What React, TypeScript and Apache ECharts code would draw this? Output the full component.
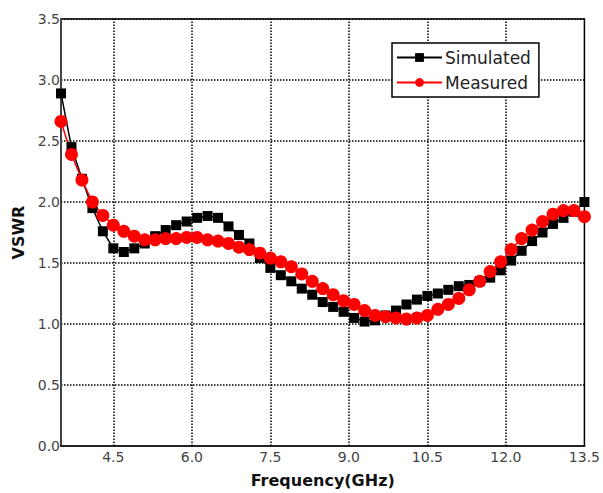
import React, { useEffect, useRef } from "react";
import * as echarts from "echarts";

const freqs = [3.5, 3.7, 3.9, 4.1, 4.3, 4.5, 4.7, 4.9, 5.1, 5.3, 5.5, 5.7, 5.9, 6.1, 6.3, 6.5, 6.7, 6.9, 7.1, 7.3, 7.5, 7.7, 7.9, 8.1, 8.3, 8.5, 8.7, 8.9, 9.1, 9.3, 9.5, 9.7, 9.9, 10.1, 10.3, 10.5, 10.7, 10.9, 11.1, 11.3, 11.5, 11.7, 11.9, 12.1, 12.3, 12.5, 12.7, 12.9, 13.1, 13.3, 13.5];

const simulated = [2.89, 2.45, 2.19, 1.95, 1.76, 1.62, 1.59, 1.62, 1.66, 1.72, 1.77, 1.81, 1.84, 1.87, 1.885, 1.87, 1.8, 1.73, 1.66, 1.54, 1.46, 1.4, 1.35, 1.29, 1.24, 1.18, 1.14, 1.1, 1.05, 1.02, 1.03, 1.07, 1.11, 1.16, 1.2, 1.23, 1.25, 1.28, 1.31, 1.32, 1.35, 1.38, 1.44, 1.52, 1.6, 1.68, 1.75, 1.82, 1.87, 1.92, 2.0];

const measured = [2.66, 2.39, 2.18, 2.0, 1.89, 1.81, 1.76, 1.72, 1.69, 1.69, 1.7, 1.7, 1.71, 1.71, 1.69, 1.68, 1.66, 1.63, 1.61, 1.58, 1.54, 1.51, 1.47, 1.41, 1.35, 1.29, 1.24, 1.19, 1.16, 1.11, 1.07, 1.06, 1.05, 1.04, 1.05, 1.07, 1.12, 1.16, 1.21, 1.28, 1.35, 1.43, 1.51, 1.61, 1.7, 1.77, 1.84, 1.9, 1.93, 1.93, 1.88];

const xTickLabels = [4.5, 6.0, 7.5, 9.0, 10.5, 12.0, 13.5];
const seriesNames = ["Simulated", "Measured"];

export default function App() {
  const ref = useRef<HTMLDivElement>(null);
  useEffect(() => {
    if (!ref.current) return;
    const chart = echarts.init(ref.current, null, { renderer: "svg" });
    const isTick = (v: number) => xTickLabels.some((t) => Math.abs(t - v) < 1e-6);
    chart.setOption({
      animation: false,
      backgroundColor: "#fff",
      grid: {
        left: 61,
        right: 18,
        top: 19,
        bottom: 47,
        show: true,
        borderColor: "#000",
        borderWidth: 1.5,
        backgroundColor: "transparent",
      },
      legend: {
        data: seriesNames,
        orient: "vertical",
        left: 392,
        top: 43,
        padding: [6, 8, 6, 4],
        itemGap: 8,
        itemWidth: 45,
        itemHeight: 11,
        borderColor: "#000",
        borderWidth: 1.5,
        borderRadius: 0,
        backgroundColor: "#fff",
        textStyle: { fontFamily: "DejaVu Sans", fontSize: 17, color: "#222", padding: [0, 0, 0, -2] },
      },
      xAxis: {
        type: "value",
        min: 3.5,
        max: 13.5,
        interval: 0.5,
        name: "Frequency(GHz)",
        nameLocation: "middle",
        nameGap: 26,
        nameTextStyle: { fontFamily: "DejaVu Sans", fontWeight: "bold", fontSize: 16, color: "#111" },
        axisLine: { show: true, lineStyle: { color: "#222", width: 2 } },
        axisTick: { show: false },
        splitLine: { show: false },
        axisLabel: {
          fontFamily: "DejaVu Sans",
          fontSize: 14,
          color: "#444",
          margin: 4,
          showMinLabel: true,
          showMaxLabel: true,
          formatter: (v: number) => (isTick(v) ? v.toFixed(1) : ""),
        },
      },
      yAxis: {
        type: "value",
        min: 0,
        max: 3.5,
        interval: 0.5,
        name: "VSWR",
        nameLocation: "middle",
        nameGap: 23,
        nameTextStyle: { fontFamily: "DejaVu Sans", fontWeight: "bold", fontSize: 16, color: "#111" },
        axisLine: { show: true, lineStyle: { color: "#444", width: 2 } },
        axisTick: { show: false },
        splitLine: { show: true, lineStyle: { type: "dotted", color: "#000", width: 1.5 } },
        axisLabel: {
          fontFamily: "DejaVu Sans",
          fontSize: 14,
          color: "#444",
          margin: 1,
          formatter: (v: number) => v.toFixed(1),
        },
      },
      series: [
        {
          name: seriesNames[0],
          type: "line",
          data: freqs.map((f, i) => [f, simulated[i]]),
          symbol: "rect",
          symbolSize: 10,
          showAllSymbol: true,
          itemStyle: { color: "#000" },
          lineStyle: { color: "#000", width: 1.5 },
          markLine: {
            silent: true,
            z: 1,
            symbol: ["none", "none"],
            label: { show: false },
            lineStyle: { type: "dotted", color: "#000", width: 1.5 },
            data: xTickLabels.slice(0, -1).map((t) => ({ xAxis: t })),
          },
        },
        {
          name: seriesNames[1],
          type: "line",
          data: freqs.map((f, i) => [f, measured[i]]),
          symbol: "circle",
          symbolSize: 13,
          showAllSymbol: true,
          itemStyle: { color: "#ff0000" },
          lineStyle: { color: "#ff0000", width: 1.5 },
        },
      ],
    });
    return () => chart.dispose();
  }, []);
  return (
    <div
      ref={ref}
      style={{ position: "fixed", left: 0, top: 0, width: 603, height: 493, background: "#fff" }}
    />
  );
}
